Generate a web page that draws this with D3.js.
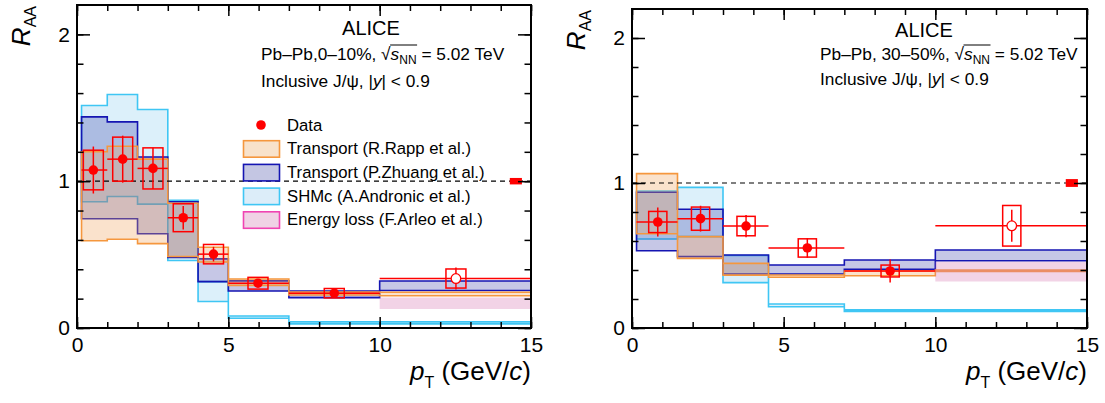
<!doctype html>
<html lang="en">
<head>
<meta charset="utf-8">
<title>J/psi RAA vs pT</title>
<script src="https://d3js.org/d3.v7.min.js"></script>
<style>
  body { margin: 0; background: #fff; }
  svg text { font-family: "Liberation Sans", Arial, Helvetica, sans-serif; }
</style>
</head>
<body>
<svg id="chart" width="1105" height="403"></svg>
<script>
// ---------- Pb-Pb 0-10% ----------
const cenPt     = [0.54, 1.51, 2.51, 3.51, 4.51, 5.98, 8.5, 12.52]
const cenBinLo  = [0.15, 1, 2, 3, 4, 5, 7, 10]
const cenBinHi  = [1, 2, 3, 4, 5, 7, 10, 15]
const cenRaa    = [1.076, 1.15, 1.087, 0.751, 0.503, 0.305, 0.237, 0.337]
const cenStat   = [0.16, 0.16, 0.14, 0.08, 0.05, 0.02, 0.03, 0.075]
const cenSyst   = [0.135, 0.15, 0.14, 0.095, 0.066, 0.04, 0.032, 0.065]
const cenOpen   = [false, false, false, false, false, false, false, true]
const cenGlobal = 0.022

const cenEdges     = [0.15, 1, 2, 3, 4, 5, 7, 10, 15]
const cenRappLo    = [0.594, 0.605, 0.575, 0.487, 0.45, 0.29, 0.225, 0.22]
const cenRappHi    = [1.20, 1.238, 1.15, 0.85, 0.55, 0.334, 0.245, 0.244]
const cenZhuangLo  = [0.744, 0.744, 0.642, 0.48, 0.316, 0.252, 0.207, 0.255]
const cenZhuangHi  = [1.438, 1.404, 1.165, 0.86, 0.471, 0.321, 0.252, 0.32]
const cenShmLo     = [0.86, 0.896, 0.844, 0.46, 0.18, 0.066, 0.028, 0.028]
const cenShmHi     = [1.515, 1.59, 1.488, 0.87, 0.316, 0.082, 0.042, 0.042]
const cenArleoEdges = [10, 15]
const cenArleoLo   = [0.13]
const cenArleoHi   = [0.207]

// ---------- Pb-Pb 30-50% ----------
const semiPt     = [0.85, 2.26, 3.76, 5.78, 8.51, 12.52]
const semiBinLo  = [0.15, 1.5, 3, 4.5, 7, 10]
const semiBinHi  = [1.5, 3, 4.5, 7, 10, 15]
const semiRaa    = [0.731, 0.754, 0.703, 0.552, 0.393, 0.705]
const semiStat   = [0.10, 0.089, 0.077, 0.068, 0.08, 0.11]
const semiSyst   = [0.073, 0.08, 0.067, 0.063, 0.041, 0.14]
const semiOpen   = [false, false, false, false, false, true]
const semiGlobal = 0.027

const semiEdges     = [0.15, 1.5, 3, 4.5, 7, 10, 15]
const semiRappLo    = [0.65, 0.48, 0.365, 0.35, 0.36, 0.39]
const semiRappHi    = [1.065, 0.63, 0.446, 0.366, 0.393, 0.40]
const semiZhuangLo  = [0.533, 0.492, 0.372, 0.372, 0.404, 0.464]
const semiZhuangHi  = [0.936, 0.819, 0.503, 0.434, 0.469, 0.538]
const semiShmLo     = [0.614, 0.63, 0.313, 0.147, 0.115, 0.115]
const semiShmHi     = [0.945, 0.97, 0.50, 0.166, 0.125, 0.125]
const semiArleoEdges = [10, 15]
const semiArleoLo   = [0.32]
const semiArleoHi   = [0.457]

// ticks
const xMinorTicks = d3.range(0, 16)
const xMajorTicks = [0, 5, 10, 15]
const yMinorTicks = d3.range(0, 2.19, 0.2)
const yMajorTicks = [0, 1, 2]

// legend
const legendNames = ['Data', 'Transport (R.Rapp et al.)', 'Transport (P.Zhuang et al.)',
                     'SHMc (A.Andronic et al.)', 'Energy loss (F.Arleo et al.)']

const styles = {
  rapp:   { fill: 'rgba(240,165,95,0.32)',  stroke: '#f5973e', box: '#f8e2cb' },
  zhuang: { fill: 'rgba(35,40,160,0.26)',   stroke: '#1515b2', box: '#c4c6e3' },
  shm:    { fill: 'rgba(140,205,240,0.30)', stroke: '#3fc6f4', box: '#dcedf9' },
  arleo:  { fill: 'rgba(215,120,180,0.33)', stroke: 'none',    box: '#f0d2e5', legendStroke: '#f044b2' }
}

const svg = d3.select('#chart')
const red = '#ff0000'
const infoSize = 17.3

const drawPanel = opt => {
  const g = svg.append('g')
  const x = d3.scaleLinear().domain([0, 15]).range([opt.left, opt.right])
  const y = d3.scaleLinear().domain([0, 2.2]).range([opt.bottom, opt.top])

  // model bands
  const area = d3.area().curve(d3.curveStepAfter)
    .x(d => x(d.x)).y0(d => y(d.lo)).y1(d => y(d.hi))
  opt.bands.forEach(b => {
    const pts = b.edges.map((e, i) => ({
      x: e,
      lo: b.lo[Math.min(i, b.lo.length - 1)],
      hi: b.hi[Math.min(i, b.hi.length - 1)]
    }))
    g.append('path').datum(pts).attr('d', area)
      .attr('fill', b.style.fill)
      .attr('stroke', b.style.stroke)
      .attr('stroke-width', 1.6)
  })

  // unity line
  g.append('line')
    .attr('x1', x(0)).attr('x2', x(15)).attr('y1', y(1)).attr('y2', y(1))
    .attr('stroke', '#000').attr('stroke-width', 1.2).attr('stroke-dasharray', '5,4')

  // data
  const data = opt.pt.map((p, i) => ({
    pt: p, lo: opt.binLo[i], hi: opt.binHi[i], raa: opt.raa[i],
    stat: opt.stat[i], syst: opt.syst[i], open: opt.open[i]
  }))
  const pts = g.selectAll('g.pt').data(data).join('g').attr('class', 'pt')
  pts.append('rect')
    .attr('x', d => x(d.pt - opt.boxHalf)).attr('width', d => x(d.pt + opt.boxHalf) - x(d.pt - opt.boxHalf))
    .attr('y', d => y(d.raa + d.syst)).attr('height', d => y(d.raa - d.syst) - y(d.raa + d.syst))
    .attr('fill', 'none').attr('stroke', red).attr('stroke-width', 1.5)
  pts.append('line')
    .attr('x1', d => x(d.pt)).attr('x2', d => x(d.pt))
    .attr('y1', d => y(d.raa - d.stat)).attr('y2', d => y(d.raa + d.stat))
    .attr('stroke', red).attr('stroke-width', 1.5)
  pts.append('line')
    .attr('x1', d => x(d.lo)).attr('x2', d => x(d.hi))
    .attr('y1', d => y(d.raa)).attr('y2', d => y(d.raa))
    .attr('stroke', red).attr('stroke-width', 1.5)
  pts.append('circle')
    .attr('cx', d => x(d.pt)).attr('cy', d => y(d.raa)).attr('r', 4.8)
    .attr('fill', d => d.open ? '#fff' : red)
    .attr('stroke', red).attr('stroke-width', d => d.open ? 1.3 : 0)

  // global uncertainty
  g.append('rect')
    .attr('x', x(14.5 - 0.2)).attr('width', x(14.7) - x(14.3))
    .attr('y', y(1 + opt.global)).attr('height', y(1 - opt.global) - y(1 + opt.global))
    .attr('fill', red)

  // axes
  const tidy = sel => {
    sel.select('.domain').remove()
    sel.selectAll('.tick line').attr('stroke', '#000').attr('stroke-width', 1.5)
    sel.selectAll('text').attr('fill', '#000').attr('font-size', 21)
      .attr('font-family', '"Liberation Sans", Arial, sans-serif')
  }
  const none = () => ''
  g.append('g').attr('transform', `translate(0,${opt.bottom})`)
    .call(d3.axisBottom(x).tickValues(xMinorTicks).tickSize(-6).tickFormat(none)).call(tidy)
  g.append('g').attr('transform', `translate(0,${opt.bottom})`)
    .call(d3.axisBottom(x).tickValues(xMajorTicks).tickSize(-11).tickPadding(9).tickFormat(d3.format('d'))).call(tidy)
  g.append('g').attr('transform', `translate(0,${opt.top})`)
    .call(d3.axisTop(x).tickValues(xMinorTicks).tickSize(-6).tickFormat(none)).call(tidy)
  g.append('g').attr('transform', `translate(0,${opt.top})`)
    .call(d3.axisTop(x).tickValues(xMajorTicks).tickSize(-11).tickFormat(none)).call(tidy)
  g.append('g').attr('transform', `translate(${opt.left},0)`)
    .call(d3.axisLeft(y).tickValues(yMinorTicks).tickSize(-6.5).tickFormat(none)).call(tidy)
  g.append('g').attr('transform', `translate(${opt.left},0)`)
    .call(d3.axisLeft(y).tickValues(yMajorTicks).tickSize(-13).tickPadding(7).tickFormat(d3.format('d'))).call(tidy)
  g.append('g').attr('transform', `translate(${opt.right},0)`)
    .call(d3.axisRight(y).tickValues(yMinorTicks).tickSize(-6.5).tickFormat(none)).call(tidy)
  g.append('g').attr('transform', `translate(${opt.right},0)`)
    .call(d3.axisRight(y).tickValues(yMajorTicks).tickSize(-13).tickFormat(none)).call(tidy)

  g.append('rect')
    .attr('x', opt.left).attr('y', opt.top)
    .attr('width', opt.right - opt.left).attr('height', opt.bottom - opt.top)
    .attr('fill', 'none').attr('stroke', '#000').attr('stroke-width', 2)

  // axis titles
  const yt = g.append('text')
    .attr('transform', `translate(${opt.left - 47},${opt.top + 1}) rotate(-90)`)
    .attr('text-anchor', 'end')
  yt.append('tspan').text('R').attr('font-size', 26).attr('font-style', 'italic')
  yt.append('tspan').text('AA').attr('font-size', 16).attr('dy', 6)

  const xt = g.append('text')
    .attr('x', opt.right).attr('y', 380).attr('text-anchor', 'end').attr('font-size', 26)
  xt.append('tspan').text('p').attr('font-style', 'italic')
  xt.append('tspan').text('T').attr('font-size', 16).attr('dy', 8)
  xt.append('tspan').text(' (GeV/').attr('dy', -8)
  xt.append('tspan').text('c').attr('font-style', 'italic')
  xt.append('tspan').text(')')

  // labels
  g.append('text').text('ALICE')
    .attr('x', opt.left + opt.aliceDx).attr('y', opt.textY[0])
    .attr('text-anchor', 'middle').attr('font-size', 20)

  const l2 = g.append('text')
    .attr('x', opt.left + opt.textDx).attr('y', opt.textY[1]).attr('font-size', infoSize)
  l2.append('tspan').text(opt.system)
  l2.append('tspan').text('√')
  l2.append('tspan').text('s').attr('font-style', 'italic')
  l2.append('tspan').text('NN').attr('font-size', 12).attr('dy', 4)
  l2.append('tspan').text(' = 5.02 TeV').attr('dy', -4)
  const node = l2.node()
  const iRad = opt.system.length
  const xa = node.getEndPositionOfChar(iRad).x
  const xb = node.getEndPositionOfChar(iRad + 3).x
  g.append('line')
    .attr('x1', xa - 0.5).attr('x2', xb + 0.5)
    .attr('y1', opt.textY[1] - 15).attr('y2', opt.textY[1] - 15)
    .attr('stroke', '#000').attr('stroke-width', 1)

  const l3 = g.append('text')
    .attr('x', opt.left + opt.textDx).attr('y', opt.textY[2]).attr('font-size', infoSize)
  l3.append('tspan').text('Inclusive J/ψ, |')
  l3.append('tspan').text('y').attr('font-style', 'italic')
  l3.append('tspan').text('| < 0.9')

  return { g, x, y }
}

const left = drawPanel({
  left: 77, right: 531, top: 5, bottom: 328,
  pt: cenPt, binLo: cenBinLo, binHi: cenBinHi, raa: cenRaa, stat: cenStat, syst: cenSyst,
  open: cenOpen, global: cenGlobal, boxHalf: 0.33,
  bands: [
    { edges: cenEdges, lo: cenShmLo, hi: cenShmHi, style: styles.shm },
    { edges: cenEdges, lo: cenZhuangLo, hi: cenZhuangHi, style: styles.zhuang },
    { edges: cenEdges, lo: cenRappLo, hi: cenRappHi, style: styles.rapp },
    { edges: cenArleoEdges, lo: cenArleoLo, hi: cenArleoHi, style: styles.arleo }
  ],
  system: 'Pb–Pb,0–10%, ', aliceDx: 294, textDx: 184, textY: [35, 60, 87]
})

drawPanel({
  left: 632, right: 1087, top: 9, bottom: 328,
  pt: semiPt, binLo: semiBinLo, binHi: semiBinHi, raa: semiRaa, stat: semiStat, syst: semiSyst,
  open: semiOpen, global: semiGlobal, boxHalf: 0.3,
  bands: [
    { edges: semiEdges, lo: semiShmLo, hi: semiShmHi, style: styles.shm },
    { edges: semiEdges, lo: semiZhuangLo, hi: semiZhuangHi, style: styles.zhuang },
    { edges: semiEdges, lo: semiRappLo, hi: semiRappHi, style: styles.rapp },
    { edges: semiArleoEdges, lo: semiArleoLo, hi: semiArleoHi, style: styles.arleo }
  ],
  system: 'Pb–Pb, 30–50%, ', aliceDx: 292, textDx: 188, textY: [37, 60, 85]
})

// legend (left panel only)
const legendStyles = [null, styles.rapp, styles.zhuang, styles.shm, styles.arleo]
const leg = left.g.append('g')
legendNames.forEach((name, i) => {
  const yb = 130.5 + i * 23.7
  if (i === 0) {
    leg.append('circle').attr('cx', 261).attr('cy', yb - 5.5).attr('r', 4.8).attr('fill', red)
  } else {
    const s = legendStyles[i]
    leg.append('rect').attr('x', 243.5).attr('y', yb - 13.5).attr('width', 36).attr('height', 16.5)
      .attr('fill', s.box).attr('stroke', s.legendStroke || s.stroke).attr('stroke-width', 1.6)
  }
  leg.append('text').text(name).attr('x', 287).attr('y', yb).attr('font-size', 16.7)
})
</script>
</body>
</html>
